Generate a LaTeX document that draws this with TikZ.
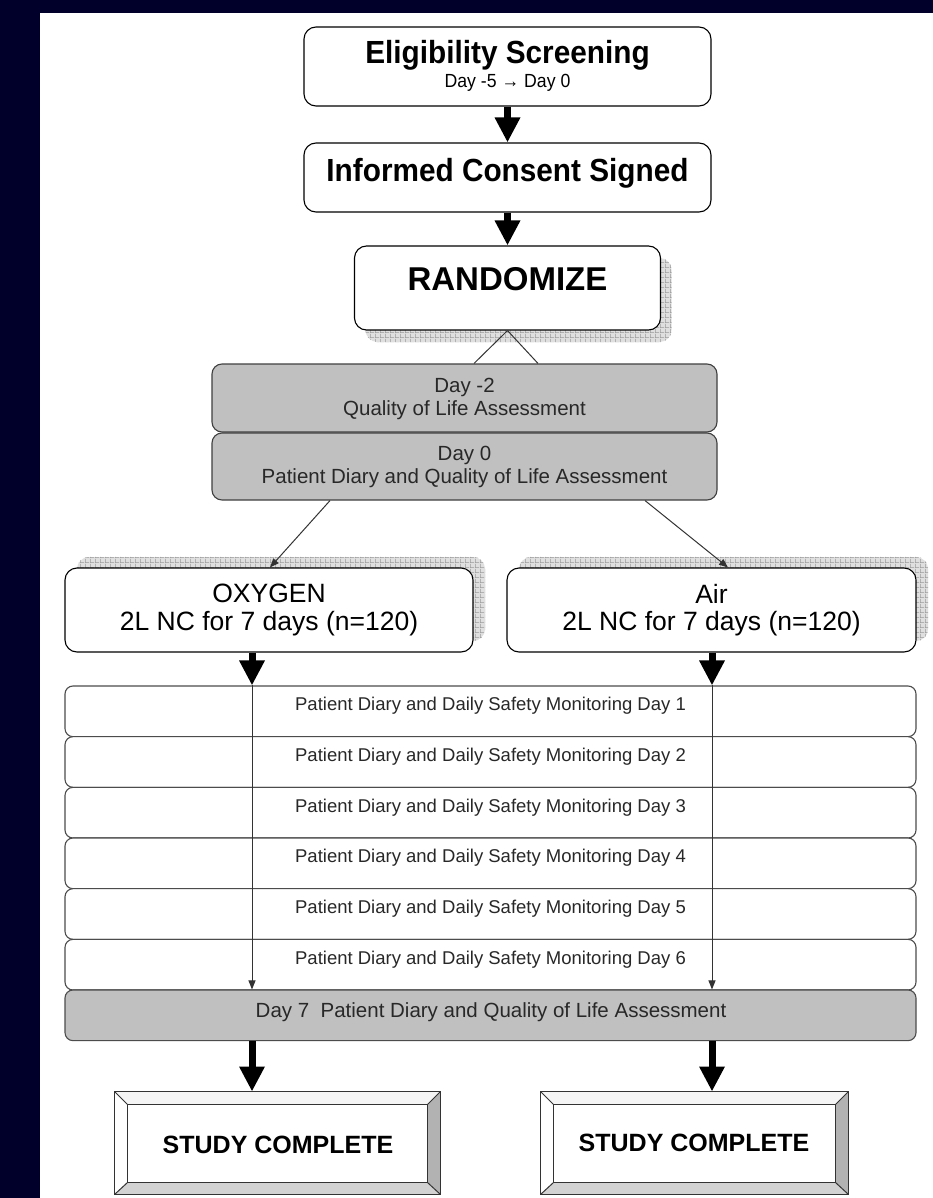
\documentclass[tikz,border=0pt]{standalone}
\usepackage{fontspec}
\setmainfont{Liberation Sans}
\newfontfamily\condensed[FakeStretch=0.93]{Liberation Sans}
\usetikzlibrary{arrows.meta,patterns.meta,calc}
\definecolor{navy}{RGB}{0,0,42}
\definecolor{boxgray}{RGB}{192,192,192}
\definecolor{txt}{RGB}{40,40,40}
\newcommand{\fs}[1]{\fontsize{#1}{#1}\selectfont}
\tikzdeclarepattern{
  name=hatchgrid,
  type=uncolored,
  bounding box={(0,0) and (5pt,5pt)},
  tile size={(5pt,5pt)},
  code={
    \draw[line width=0.7pt] (0,0.35pt) -- (5pt,0.35pt);
    \draw[line width=0.7pt] (0.35pt,0) -- (0.35pt,5pt);
  }
}
\begin{document}
\begin{tikzpicture}[x=1pt,y=-1pt,
  box/.style={draw=black, line width=1.1pt, rounded corners=12pt, fill=white, inner sep=0pt},
  greybox/.style={draw=black!75, line width=1.1pt, rounded corners=10pt, fill=boxgray, inner sep=0pt},
  rowbox/.style={draw=black!70, line width=1.1pt, rounded corners=8pt, fill=white, inner sep=0pt, minimum width=851pt, minimum height=50.67pt},
  shadowbox/.style={rounded corners=12pt, fill=gray!25, inner sep=0pt},
  bigarrow/.style={line width=7pt, -{Triangle[width=24pt,length=25pt]}},
  thinarrow/.style={draw=black!80, line width=1pt, -{Triangle[width=7pt,length=9pt]}},
  thinline/.style={draw=black!80, line width=1pt},
  lbl/.style={inner sep=0pt, align=center},
  rowtxt/.style={inner sep=0pt, text=txt, font=\fs{18.5}},
  bevel/.style={draw=black!80, line width=1pt, inner sep=0pt, minimum height=102pt},
  gridfill/.style={pattern=hatchgrid, pattern color=gray!80, rounded corners=12pt},
]
% background
\fill[navy] (0,0) rectangle (933,1198);
\fill[white] (40,13) rectangle (933,1198);

% top boxes
\node[box, minimum width=407pt, minimum height=79pt] (elig) at (507.5,66.5) {};
\node[lbl, font=\condensed\bfseries\fs{32}] (eligT) at (507.5,55) {Eligibility Screening};
\node[lbl, font=\condensed\fs{19}] (eligD) at (507.5,83) {Day -5 → Day 0};

\node[box, minimum width=407pt, minimum height=69pt] (cons) at (507.5,177.5) {};
\node[lbl, font=\condensed\bfseries\fs{32}] (consT) at (507.5,173) {Informed Consent Signed};

\node[shadowbox, minimum width=306pt, minimum height=84pt] (randsh) at (518.5,300) {};
\fill[gridfill] (randsh.north west) rectangle (randsh.south east);
\node[box, minimum width=306pt, minimum height=84pt] (rand) at (507.5,288) {};
\node[lbl, font=\bfseries\fs{33}] (randT) at (507.5,279) {RANDOMIZE};

\draw[bigarrow] (elig.south) -- (cons.north);
\draw[bigarrow] (cons.south) -- (rand.north);

% grey assessment boxes
\node[greybox, minimum width=505pt, minimum height=68pt] (day2) at (464.5,398) {};
\node[lbl, text=txt, font=\fs{20.5}] (day2T) at (464.5,399) {Day -2\\[2pt]Quality of Life Assessment};
\node[greybox, minimum width=505pt, minimum height=67pt] (day0) at (464.5,466.5) {};
\node[lbl, text=txt, font=\fs{20.5}] (day0T) at (464.5,467) {Day 0\\[2pt]Patient Diary and Quality of Life Assessment};

\draw[thinline] (rand.south) -- (474,0 |- day2.north);
\draw[thinline] (rand.south) -- (538,0 |- day2.north);

% treatment arms
\node[shadowbox, minimum width=408pt, minimum height=84pt] (oxysh) at (281,599) {};
\fill[gridfill] (oxysh.north west) rectangle (oxysh.south east);
\node[box, minimum width=408pt, minimum height=84pt] (oxy) at (269,610) {};
\node[lbl, font=\fs{26.5}] (oxyT) at (269,610) {OXYGEN\\[1pt]2L NC for 7 days (n=120)};

\node[shadowbox, minimum width=409pt, minimum height=84pt] (airsh) at (723.5,599) {};
\fill[gridfill] (airsh.north west) rectangle (airsh.south east);
\node[box, minimum width=409pt, minimum height=84pt] (air) at (711.5,610) {};
\node[lbl, font=\fs{26.5}] (airT) at (711.5,610) {Air\\[1pt]2L NC for 7 days (n=120)};

\draw[thinarrow] (330,0 |- day0.south) -- (270,0 |- oxy.north);
\draw[thinarrow] (645,0 |- day0.south) -- (728,0 |- air.north);

% daily rows
\foreach \i in {1,...,6}{
  \node[rowbox] (row\i) at (490.5,{686+50.67*(\i-1)+25.33}) {};
  \node[rowtxt] (row\i T) at (490.5,{686+50.67*(\i-1)+20}) {Patient Diary and Daily Safety Monitoring Day \i};
}
\node[rowbox, fill=boxgray] (row7) at (490.5,{990+25.33}) {};
\node[rowtxt, font=\fs{20.5}] (row7T) at (491,1012) {Day 7\ \ Patient Diary and Quality of Life Assessment};

\draw[bigarrow] (252,0 |- oxy.south) -- (252,0 |- row1.north);
\draw[bigarrow] (712,0 |- air.south) -- (712,0 |- row1.north);
\draw[thinarrow] (252,0 |- row1.north) -- (252,0 |- row7.north);
\draw[thinarrow] (712,0 |- row1.north) -- (712,0 |- row7.north);

% study complete boxes
\node[bevel, minimum width=325pt] (lsc) at (277.5,1143) {};
\node[bevel, minimum width=307pt] (rsc) at (694.5,1143) {};
\foreach \b in {lsc,rsc}{
  \coordinate (\b a) at ($(\b.north west)+(13,13)$);
  \coordinate (\b b) at ($(\b.north east)+(-13,13)$);
  \coordinate (\b c) at ($(\b.south east)+(-13,-12)$);
  \coordinate (\b d) at ($(\b.south west)+(13,-12)$);
  \fill[gray!8] (\b.north west) -- (\b.north east) -- (\b b) -- (\b a) -- cycle;
  \fill[white] (\b.north west) -- (\b a) -- (\b d) -- (\b.south west) -- cycle;
  \fill[gray!60] (\b.north east) -- (\b.south east) -- (\b c) -- (\b b) -- cycle;
  \fill[gray!35] (\b.south west) -- (\b.south east) -- (\b c) -- (\b d) -- cycle;
  \draw[black!80, line width=1pt] (\b.north west) rectangle (\b.south east);
  \draw[black!80, line width=1pt] (\b a) rectangle (\b c);
  \draw[black!80, line width=1pt] (\b.north west) -- (\b a) (\b.north east) -- (\b b) (\b.south east) -- (\b c) (\b.south west) -- (\b d);
}
\node[lbl, font=\bfseries\fs{25}] (lscT) at (278,1145) {STUDY COMPLETE};
\node[lbl, font=\bfseries\fs{25}] (rscT) at (694,1143) {STUDY COMPLETE};

\draw[bigarrow] (252,0 |- row7.south) -- (252,0 |- lsc.north);
\draw[bigarrow] (712,0 |- row7.south) -- (712,0 |- rsc.north);
\end{tikzpicture}
\end{document}
